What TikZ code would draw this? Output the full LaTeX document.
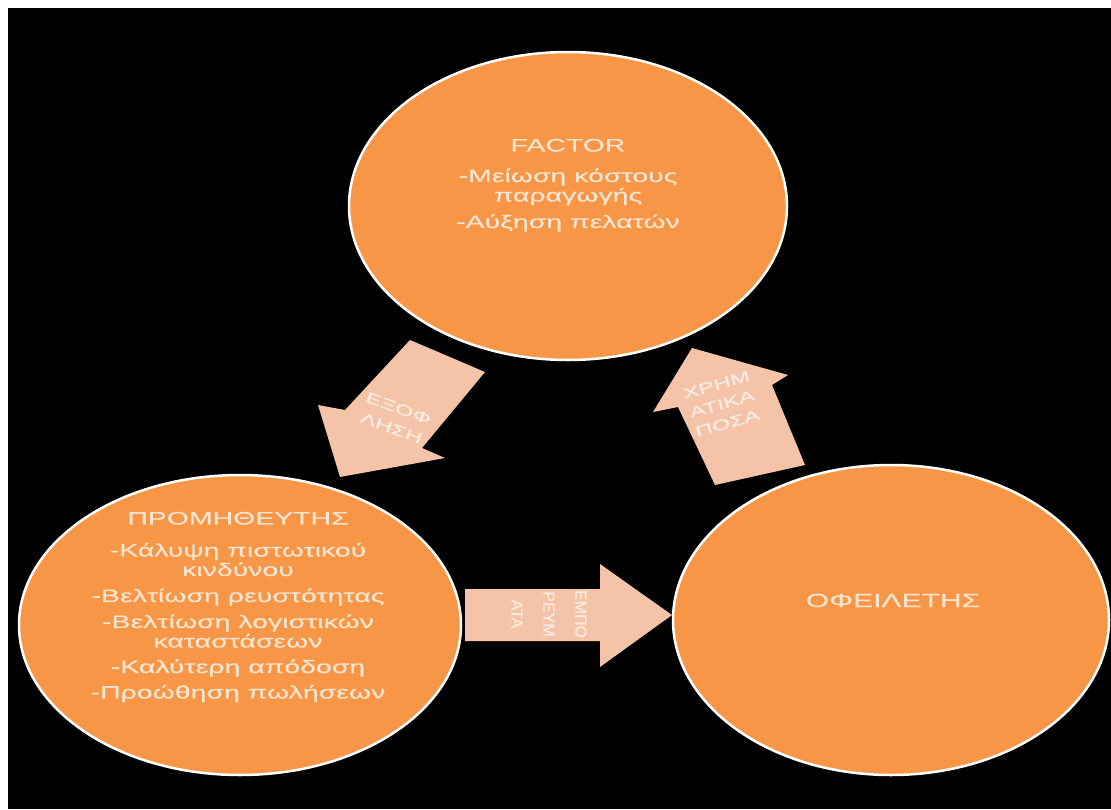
\documentclass[tikz,border=0pt]{standalone}
\usepackage{fontspec}
\setmainfont{Liberation Sans}
\newfontfamily\widefont[FakeStretch=1.58,FakeBold=0.4]{Liberation Sans}
\newfontfamily\plainfont[FakeBold=0.4]{Liberation Sans}
\usetikzlibrary{shapes.geometric}
\definecolor{circorange}{HTML}{F79646}
\definecolor{arrowpeach}{HTML}{F5C3A7}
\definecolor{ctextcol}{HTML}{FCE6D2}
\definecolor{atextcol}{HTML}{FDEDE4}
\begin{document}
\begin{tikzpicture}[x=1pt,y=-1pt,
  circ/.style={ellipse, fill=circorange, draw=white, line width=2.5pt, inner sep=0pt},
  ctext/.style={align=center, text=ctextcol, inner sep=0pt, font=\widefont\fontsize{18}{19.5}\selectfont},
  atext/.style={align=center, text=atextcol, inner sep=0pt, font=\widefont\fontsize{15}{21}\selectfont},
  vtext/.style={align=center, text=atextcol, inner sep=0pt, font=\plainfont\fontsize{16}{32}\selectfont},
  blockarrow/.style={fill=arrowpeach}]
\useasboundingbox (0,0) rectangle (1111,809);
\fill[white] (0,0) rectangle (1111,809);
\fill[black] (8,8) rectangle (1111,809);

% block arrows
\fill[blockarrow] (410,340) -- (485,372) -- (422,448) -- (445,458) -- (340,477) -- (318,405) -- (345,410) -- cycle;
\fill[blockarrow] (692,348) -- (788,375) -- (772,385) -- (805,465) -- (715,485) -- (678,407) -- (653,412) -- cycle;
\fill[blockarrow] (465,589) -- (600,589) -- (600,564) -- (672,615) -- (600,667) -- (600,641) -- (465,641) -- cycle;

% circles
\node[circ, minimum width=438pt, minimum height=308pt] (factor) at (568,206) {};
\node[circ, minimum width=442pt, minimum height=300pt] (prom) at (240,625) {};
\node[circ, minimum width=436pt, minimum height=310pt] (ofeil) at (891,620) {};

% circle texts
\node[ctext, anchor=north] (factortext) at (568,138.7)
  {FACTOR\\[11pt]-Μείωση κόστους\\παραγωγής\\[7pt]-Αύξηση πελατών};
\node[ctext, anchor=north] (promtext) at (238,511.7)
  {ΠΡΟΜΗΘΕΥΤΗΣ\\[12.5pt]-Κάλυψη πιστωτικού\\κινδύνου\\[6.5pt]-Βελτίωση ρευστότητας\\[6.5pt]-Βελτίωση λογιστικών\\καταστάσεων\\[6pt]-Καλύτερη απόδοση\\[6pt]-Προώθηση πωλήσεων};
\node[ctext, anchor=base, font=\widefont\fontsize{19}{20}\selectfont] (ofeiltext) at (893,607) {ΟΦΕΙΛΕΤΗΣ};

% arrow texts
\node[atext, rotate=-20] (exoflisi) at (395,418) {ΕΞΟΦ\\ΛΗΣΗ};
\node[atext, rotate=16, font=\widefont\fontsize{15}{20}\selectfont] (chrimatika) at (722,404) {ΧΡΗΜ\\ΑΤΙΚΑ\\ΠΟΣΑ};
\node[vtext, rotate=-90] (emporevmata) at (549,614) {ΕΜΠΟ\\ΡΕΥΜ\\ΑΤΑ};
\end{tikzpicture}
\end{document}
